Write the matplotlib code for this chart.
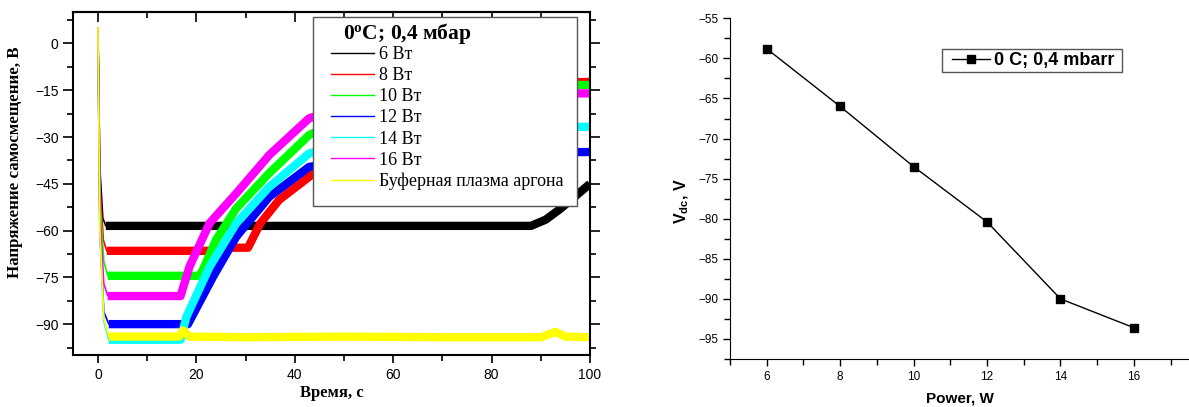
import matplotlib
matplotlib.use("Agg")
import matplotlib.pyplot as plt
from matplotlib.ticker import MultipleLocator, FixedLocator
from matplotlib.patches import Rectangle

plt.rcParams['mathtext.fontset'] = 'custom'
plt.rcParams['mathtext.rm'] = 'Liberation Serif'
plt.rcParams['mathtext.bf'] = 'Liberation Serif:bold'
plt.rcParams['mathtext.it'] = 'Liberation Serif:italic'
plt.rcParams['mathtext.sf'] = 'Liberation Sans:bold'

SERIF = ['Liberation Serif', 'DejaVu Serif']
SANS = ['Liberation Sans', 'DejaVu Sans']

# ---------------- data: left panel (time traces) ----------------
legend_title = '0$^{\\mathbf{o}}$C; 0,4 мбар'
labels_left = ['6 Вт', '8 Вт', '10 Вт', '12 Вт', '14 Вт', '16 Вт', 'Буферная плазма аргона']
colors_left = ['#000000', '#ff0000', '#00ff00', '#0000ff', '#00ffff', '#ff00ff', '#ffff00']

t_6 = [0, 0.4, 1.0, 1.6, 88, 91, 94, 97, 100]
v_6 = [5, -40, -56, -58.5, -58.5, -56.5, -53, -49, -45]

t_8 = [0, 0.4, 1.1, 1.8, 23, 26.5, 30.5, 33, 36.8, 42.9, 55, 70, 85, 100]
v_8 = [5, -45, -63, -66.5, -66.5, -65.5, -65.5, -57.7, -50.2, -42.8, -28, -17, -13, -12.3]

t_10 = [0, 0.4, 1.2, 2.0, 20.7, 21.3, 24, 28.1, 34.8, 42.9, 55, 70, 85, 100]
v_10 = [5, -50, -70, -74.5, -74.5, -72.7, -63, -52.9, -41.6, -29.4, -20, -15, -13.5, -13.3]

t_12 = [0, 0.4, 1.2, 2.2, 18.3, 23.4, 28.1, 34.8, 42.9, 55, 70, 85, 100]
v_12 = [5, -60, -86, -90, -90, -74.8, -62, -49.2, -39.6, -36, -35, -35, -34.8]

t_14 = [0, 0.4, 1.2, 2.2, 16.8, 18, 22.7, 28.1, 34.8, 42.9, 55, 70, 85, 100]
v_14 = [5, -60, -89, -95, -95, -87.6, -71.6, -57.7, -46, -35.3, -30, -27.5, -27, -26.7]

t_16 = [0, 0.4, 1.2, 2.0, 16.8, 18.6, 22.7, 28.1, 34.8, 42.9, 55, 70, 85, 100]
v_16 = [5, -55, -77, -81, -81, -71.6, -57.6, -48.1, -35.8, -24, -18, -16.5, -16, -16]

t_ar = [0, 0.4, 1.2, 2.2, 16.5, 17.3, 18.5, 30, 50, 70, 90, 93, 95, 100]
v_ar = [5, -60, -88, -94, -94, -92, -94, -94.2, -94, -94.2, -94.2, -92.5, -94, -94.2]

times = [t_6, t_8, t_10, t_12, t_14, t_16, t_ar]
volts = [v_6, v_8, v_10, v_12, v_14, v_16, v_ar]

# ---------------- data: right panel ----------------
power_w = [6, 8, 10, 12, 14, 16]
vdc_v = [-58.8, -66.0, -73.5, -80.4, -90.0, -93.6]
label_right = '0 C; 0,4 mbarr'

W, H = 1189, 407
fig = plt.figure(figsize=(W / 100, H / 100), dpi=100)

# ---------------- left panel ----------------
L0, R0, T0, B0 = 73.3, 590.0, 12.3, 355.3
axL = fig.add_axes([L0 / W, 1 - B0 / H, (R0 - L0) / W, (B0 - T0) / H])


def ax_x(px):
    return (px - L0) / (R0 - L0)


def ax_y(py):
    return (B0 - py) / (B0 - T0)


for t, v, c, lab in zip(times, volts, colors_left, labels_left):
    axL.plot(t, v, color=c, lw=1.2, label=lab)
    axL.plot(t[3:], v[3:], color=c, lw=6, solid_capstyle='butt')
axL.set_xlim(-5, 100)
axL.set_ylim(-100, 10)
axL.xaxis.set_major_locator(MultipleLocator(20))
axL.xaxis.set_minor_locator(MultipleLocator(10))
axL.yaxis.set_major_locator(FixedLocator([-90, -75, -60, -45, -30, -15, 0]))
axL.yaxis.set_minor_locator(FixedLocator([-97.5, -82.5, -67.5, -52.5, -37.5, -22.5, -7.5, 7.5]))
axL.tick_params(axis='both', which='both', labelsize=10, width=1.2)
axL.tick_params(axis='x', which='major', direction='out', length=6)
axL.tick_params(axis='x', which='minor', direction='out', length=4)
axL.tick_params(axis='y', which='major', direction='out', length=7, right=True)
axL.tick_params(axis='y', which='minor', direction='out', length=4, right=True)
top = axL.secondary_xaxis('top')
top.xaxis.set_major_locator(MultipleLocator(20))
top.xaxis.set_minor_locator(MultipleLocator(10))
top.tick_params(which='both', direction='in', labeltop=False, width=1.2)
top.tick_params(which='major', length=7)
top.tick_params(which='minor', length=4)
top.spines['top'].set_linewidth(1.5)
for lab in axL.get_xticklabels() + axL.get_yticklabels():
    lab.set_family(SANS)
for s in axL.spines.values():
    s.set_linewidth(1.5)
axL.set_xlabel('Время, с', family=SERIF, fontweight='bold', fontsize=12, labelpad=2)
axL.set_ylabel('Напряжение самосмещение, В', family=SERIF, fontweight='bold', fontsize=12.2)
axL.yaxis.set_label_coords(ax_x(23), ax_y(162))

# legend box (drawn separately to get the asymmetric padding of the original)
box = Rectangle((ax_x(312.7), ax_y(206)), ax_x(577.3) - ax_x(312.7), ax_y(16.7) - ax_y(206),
                transform=axL.transAxes, facecolor='white', edgecolor='#555555',
                lw=1.0, zorder=4.5)
axL.add_patch(box)
axL.text(ax_x(343), ax_y(33), legend_title, transform=axL.transAxes, ha='left', va='center',
         family=SERIF, fontweight='bold', fontsize=15.5, zorder=6)
leg = axL.legend(loc='upper left', bbox_to_anchor=(ax_x(331), ax_y(46)),
                 borderaxespad=0, prop={'family': SERIF, 'size': 13},
                 frameon=False, handlelength=2.4, handletextpad=0.25,
                 labelspacing=0.23, borderpad=0.0)
leg.set_zorder(6)
for h in leg.get_lines():
    h.set_linewidth(1.0)

# ---------------- right panel ----------------
RL, RT, RB = 730.0, 18.3, 359.0
axR = fig.add_axes([RL / W, 1 - RB / H, (W - RL) / W, (RB - RT) / H])


def rx(px):
    return (px - RL) / (W - RL)


def ry(py):
    return (RB - py) / (RB - RT)


axR.plot(power_w, vdc_v, color='black', lw=1.0, marker='s', markersize=6, label=label_right)
axR.set_xlim(5, 17.5)
axR.set_ylim(-97.5, -55)
axR.xaxis.set_major_locator(FixedLocator(power_w))
axR.xaxis.set_minor_locator(FixedLocator([5, 7, 9, 11, 13, 15, 17]))
axR.yaxis.set_major_locator(MultipleLocator(5))
axR.yaxis.set_minor_locator(MultipleLocator(2.5))
axR.spines['top'].set_visible(False)
axR.spines['right'].set_visible(False)
axR.tick_params(axis='both', which='both', direction='out', labelsize=8.5, width=1.0)
axR.tick_params(which='major', length=5)
axR.tick_params(which='minor', length=4)
for lab in axR.get_xticklabels() + axR.get_yticklabels():
    lab.set_family(SANS)
axR.set_xlabel('Power, W', family=SANS, fontweight='bold', fontsize=11, labelpad=6)
axR.set_ylabel('V$_{\\mathsf{dc}}$, V', family=SANS, fontweight='bold', fontsize=11.5)
axR.yaxis.set_label_coords(rx(690), ry(201))
boxR = Rectangle((rx(942), ry(72)), rx(1122) - rx(942), ry(49) - ry(72),
                 transform=axR.transAxes, facecolor='white', edgecolor='#555555',
                 lw=1.0, zorder=4.5)
axR.add_patch(boxR)
legR = axR.legend(loc='center left', bbox_to_anchor=(rx(952), ry(60.5)),
                  borderaxespad=0, prop={'family': SANS, 'weight': 'bold', 'size': 13},
                  frameon=False, handlelength=2.1, handletextpad=0.25, borderpad=0.0)
legR.set_zorder(6)

fig.savefig('out.png', dpi=100)
